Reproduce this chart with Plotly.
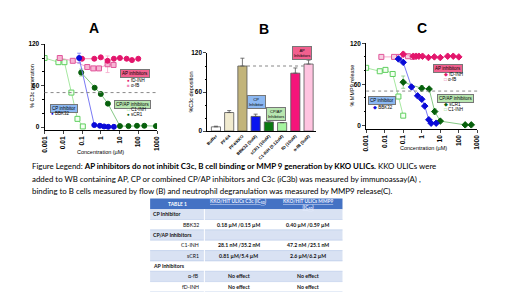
import plotly.graph_objects as go

W, H = 520, 292
def px(x): return x / W
def py(y): return 1 - y / H

# ---------------- Panel A data (% C3c generation) ----------------
A_C1INH_X = [0.001, 0.0055, 0.0115, 0.027, 0.057, 0.11]
A_C1INH_Y = [100, 94, 94, 50, 12, 1]
A_BBK32_X = [0.07, 0.45, 0.9, 1.5, 2.5, 5]
A_BBK32_Y = [100, 3, 2, 1, 0.5, 0.5]
A_BBK32_ERR = [7, 0, 0, 0, 0, 0]
A_SCR1_X = [0.09, 0.47, 1.0, 2.4, 10.5, 30, 85, 210, 880]
A_SCR1_Y = [79, 57, 48, 34, 1.5, 1.5, 2, 2, 1.5]
A_SCR1_ERR = [5, 0, 0, 0, 0, 0, 0, 0, 0]
A_FD_X = [0.1, 0.45, 1.0, 2.3, 5, 10.5, 24, 46, 100]
A_FD_Y = [99, 99, 101, 96, 99, 100, 99, 97, 99]
A_AFB_X = [0.0065, 0.032, 0.19, 0.4, 0.8, 2.3, 4.8]
A_AFB_Y = [100, 96, 87, 85, 85, 91, 90]
A_AFB_ERR = [0, 0, 0, 0, 0, 12, 0]

# ---------------- Panel B data (% C3c deposition) ----------------
B_LABELS = ["Buffer", "PF4/4", "PF4/KKO", "BBK32 (5uM)", "sCR1 (10uM)",
            "C1-INH (0.12uM)", "fD (10uM)", "α-fB (5uM)"]
B_VALUES = [6.5, 28.5, 100, 22.5, 14, 13, 89, 103]
B_ERR = [1, 3, 12, 3.5, 2.5, 0, 8, 6]
B_COLORS = ["#ffffff", "#f1ebcf", "#c2b47a", "#0a14f0", "#0a7a10",
            "#a6f5a0", "#f5157a", "#ffc4e0"]

# ---------------- Panel C data (% MMP9 release) ----------------
C_FD_X = [0.1, 0.35, 0.5, 0.7, 1.1, 2.3, 4.8, 10, 25, 50, 100]
C_FD_Y = [104, 101, 101, 101, 101, 99, 100, 99, 101, 101, 100]
C_FD_ERR = [3, 0, 0, 0, 0, 0, 0, 0, 0, 0, 0]
C_AFB_X = [0.0066, 0.032, 0.06, 0.18, 0.33]
C_AFB_Y = [100, 100, 100, 101, 100]
C_BBK32_X = [0.055, 0.1, 0.28, 0.6, 1.0, 1.45, 2.4, 3.2, 6]
C_BBK32_Y = [97, 92, 56, 43, 38, 28, 8, 3, 3]
C_SCR1_X = [0.1, 1, 2.5, 5, 10, 220, 470]
C_SCR1_Y = [63, 54, 53, 20, 6, 0.5, 0.5]
C_SCR1_ERR = [9, 4, 0, 4, 0, 0, 0]
C_C1INH_X = [0.001, 0.0054, 0.011, 0.027, 0.055, 0.1]
C_C1INH_Y = [84, 79, 81, 75, 42, 14]

X_TICKS = [0.001, 0.01, 0.1, 1, 10, 100, 1000]
X_TICKTEXT = ["0.001", "0.01", "0.1", "1", "10", "100", "1000"]
HALF = 50

# ---------------- Table 1 ----------------
T_HEADER = ["TABLE 1", "<u>KKO/HIT ULICs C3c (IC<sub>50</sub>)</u>",
            "<u>KKO/HIT ULICs MMP9</u><br><u>(IC<sub>50</sub>)</u>"]
T_SECTIONS = ["CP Inhibitor", "", "CP/AP Inhibitors", "", "", "AP Inhibitors", "", ""]
T_COL1 = ["", "BBK32", "", "C1-INH", "sCR1", "", "α-fB", "fD-INH"]
T_COL2 = ["", "0.18 µM /0.15 µM", "", "28.1 nM /35.2 nM", "0.81 µM/5.4 µM",
          "", "No effect", "No effect"]
T_COL3 = ["", "0.40 µM /0.59 µM", "", "47.2 nM /25.1 nM", "2.6 µM/6.2 µM",
          "", "No effect", "No effect"]

AXF = "Liberation Sans"
fig = go.Figure()

def series(xs, ys, err, symbol, edge, fill, lcolor, xa, ya, size=5):
    ed = dict(type="data", array=err, color=lcolor, thickness=0.8, width=2) if err else None
    fig.add_trace(go.Scatter(
        x=xs, y=ys, mode="lines+markers", xaxis=xa, yaxis=ya, showlegend=False,
        line=dict(color=lcolor, width=1),
        marker=dict(symbol=symbol, size=size, color=fill, line=dict(color=edge, width=1)),
        error_y=ed))

# Panel A
series(A_C1INH_X, A_C1INH_Y, None, "square", "#5fcf5f", "#f4fff2", "#a6e8a0", "x", "y")
series(A_AFB_X, A_AFB_Y, A_AFB_ERR, "square", "#e0559a", "#f7b5d4", "#f6a9cc", "x", "y")
series(A_FD_X, A_FD_Y, None, "circle", "#e3166c", "#e3166c", "#f58ab6", "x", "y")
series(A_SCR1_X, A_SCR1_Y, A_SCR1_ERR, "circle", "#07600c", "#07600c", "#86c986", "x", "y")
series(A_BBK32_X, A_BBK32_Y, A_BBK32_ERR, "circle", "#0a0ad8", "#0a0ad8", "#7a7af5", "x", "y")

# Panel B
fig.add_trace(go.Bar(
    x=B_LABELS, y=B_VALUES, xaxis="x2", yaxis="y2", width=0.69, showlegend=False,
    marker=dict(color=B_COLORS, line=dict(color="#555555", width=0.8)),
    error_y=dict(type="data", array=B_ERR, arrayminus=[0] * len(B_ERR), symmetric=False,
                 color="#555555", thickness=0.8, width=2)))

# Panel C
series(C_C1INH_X, C_C1INH_Y, None, "square", "#5fcf5f", "#f4fff2", "#a6e8a0", "x3", "y3")
series(C_AFB_X, C_AFB_Y, None, "square", "#e0559a", "#f7d0e2", "#f6a9cc", "x3", "y3")
series(C_FD_X, C_FD_Y, C_FD_ERR, "diamond", "#e3166c", "#e3166c", "#f58ab6", "x3", "y3")
series(C_SCR1_X, C_SCR1_Y, C_SCR1_ERR, "diamond", "#07600c", "#07600c", "#86c986", "x3", "y3")
series(C_BBK32_X, C_BBK32_Y, None, "diamond", "#0a0ad8", "#0a0ad8", "#7a7af5", "x3", "y3")

tf = dict(family=AXF, size=6.5, color="black", weight="bold")
ycommon = dict(showline=True, linecolor="black", linewidth=1, ticks="outside", ticklen=3,
               tickmode="linear", tick0=0, dtick=60, tickfont=tf, showgrid=False,
               zeroline=False, minor=dict(dtick=20, ticks="outside", ticklen=1.5,
                                          tickcolor="black"))
xlog = dict(type="log", range=[-3, 3], tickmode="array", tickvals=X_TICKS,
            ticktext=X_TICKTEXT, tickangle=-90, showline=True, linecolor="black",
            linewidth=1, ticks="outside", ticklen=3, tickfont=tf, showgrid=False,
            zeroline=False)

fig.update_layout(
    width=W, height=H, margin=dict(l=0, r=0, t=0, b=0),
    paper_bgcolor="white", plot_bgcolor="white",
    xaxis=dict(domain=[px(33), px(147)], anchor="y", **xlog),
    yaxis=dict(domain=[py(120.8), py(33)], range=[-4, 120], anchor="x", **ycommon),
    xaxis2=dict(domain=[px(198), px(308)], anchor="y2", range=[-0.65, 7.55],
                tickangle=-45, showline=True, linecolor="black", linewidth=1,
                ticks="", tickfont=dict(family=AXF, size=4.3, color="black", weight="bold"),
                showgrid=False, zeroline=False),
    yaxis2=dict(domain=[py(122), py(42)], range=[0, 120], anchor="x2", **ycommon),
    xaxis3=dict(domain=[px(359), px(471.7)], anchor="y3", **xlog),
    yaxis3=dict(domain=[py(119.5), py(32)], range=[-5, 120], anchor="x3", **ycommon),
)

# reference lines
for xr, yr in [("x domain", "y"), ("x3 domain", "y3")]:
    fig.add_shape(type="line", xref=xr, x0=0, x1=1, yref=yr, y0=HALF, y1=HALF,
                  line=dict(color="#888888", width=1, dash="dot"))
fig.add_shape(type="line", xref="x2", x0=2.35, x1=6.65, yref="y2",
              y0=B_VALUES[2], y1=B_VALUES[2],
              line=dict(color="#888888", width=1, dash="dot"))

ann = []
def text(x, y, s, size=5, xanchor="center", angle=0, color="black", family=AXF, **kw):
    ann.append(dict(x=px(x), y=py(y), xref="paper", yref="paper", text=s,
                    showarrow=False, xanchor=xanchor, yanchor="middle", textangle=angle,
                    font=dict(size=size, color=color, family=family), **kw))

def box(x, y, s, bg, size=4.5):
    text(x, y, s, size=size, bgcolor=bg, bordercolor="#777777", borderwidth=1, borderpad=1)

def rect(x0, y0, x1, y1, fill):
    fig.add_shape(type="rect", xref="paper", yref="paper",
                  x0=px(x0), x1=px(x1), y0=py(y1), y1=py(y0), fillcolor=fill,
                  line=dict(width=0), layer="below")

def hline(x0, x1, y, color, width=0.6):
    fig.add_shape(type="line", xref="paper", yref="paper", x0=px(x0), x1=px(x1),
                  y0=py(y), y1=py(y), line=dict(color=color, width=width))

# ---------------- table drawing ----------------
TX = [140, 195, 265, 335]          # column edges
T_TOP, HDR_H, ROW_H = 191, 11, 10.6
TF = "Lato"
rect(TX[0], T_TOP, TX[3], T_TOP + HDR_H, "#4472c4")
for i in range(len(T_COL1)):
    y0 = T_TOP + HDR_H + ROW_H * i
    rect(TX[0], y0, TX[3], y0 + ROW_H, "#d9e2f3" if i % 2 == 0 else "#ffffff")
    hline(TX[0], TX[3], y0 + ROW_H, "#b4c6e7")
fig.add_shape(type="line", xref="paper", yref="paper", x0=px(TX[1]), x1=px(TX[1]),
              y0=py(T_TOP + HDR_H), y1=py(H), line=dict(color="#ffffff", width=1))

hc = "#e8eeff"
text((TX[0] + TX[1]) / 2, T_TOP + 6, "<b>" + T_HEADER[0] + "</b>", size=5, color="white", family=TF)
text((TX[1] + TX[2]) / 2, T_TOP + 3.5, "<b>" + T_HEADER[1] + "</b>", size=4.8, color=hc, family=TF)
text((TX[2] + TX[3]) / 2, T_TOP + 6, "<b>" + T_HEADER[2] + "</b>", size=4.8, color=hc, family=TF)
for i in range(len(T_COL1)):
    yc = T_TOP + HDR_H + ROW_H * (i + 0.5)
    if T_SECTIONS[i]:
        text(TX[0] + 1, yc, "<b>" + T_SECTIONS[i] + "</b>", size=5.2, xanchor="left",
             family=TF, color="#111111")
    if T_COL1[i]:
        text(TX[1] - 3, yc, T_COL1[i], size=5.2, xanchor="right", family=TF, color="#111111")
    if T_COL2[i]:
        text((TX[1] + TX[2]) / 2, yc, "<b>" + T_COL2[i] + "</b>", size=5.2, family=TF, color="#111111")
    if T_COL3[i]:
        text((TX[2] + TX[3]) / 2, yc, "<b>" + T_COL3[i] + "</b>", size=5.2, family=TF, color="#111111")

# panel titles
text(83, 16, "<b>A</b>", size=14)
text(255, 17, "<b>B</b>", size=14)
text(416, 16, "<b>C</b>", size=14)

# axis titles
text(90, 143, "Concentration (µM)", size=5.5)
text(417, 139, "Concentration (µM)", size=5.5)
text(20, 76, "% C3c generation", size=5.5, angle=-90)
text(181, 82, "%C3c deposition", size=5.5, angle=-90)
text(345, 75, "% MMP9 release", size=5.5, angle=-90)

# Panel A legends
box(125, 63.5, "AP inhibitors", "#f2608e")
text(115, 70, "<span style='color:#e3166c'>●</span> fD-INH", size=4.5, xanchor="left")
text(115, 75, "<span style='color:#f08cbc'>■</span> α-fB", size=4.5, xanchor="left")
box(52.5, 98.5, "CP inhibitor", "#8cb8f2")
text(37, 104, "<span style='color:#0a0ad8'>●</span> BBK32", size=4.5, xanchor="left")
box(122.5, 94.5, "CP/AP inhibitors", "#b8e6b0")
text(115, 100, "<span style='color:#5fcf5f'>□</span> C1-INH", size=4.5, xanchor="left")
text(115, 105, "<span style='color:#07600c'>●</span> sCR1", size=4.5, xanchor="left")

# Panel B legends
box(248, 92.5, "CP<br>Inhibitor", "#8cb8f2", size=4)
box(268, 104, "CP/AP<br>Inhibitors", "#b8e6b0", size=4)
box(293.5, 42, "AP<br>Inhibitors", "#f2608e", size=4)

# Panel C legends
box(442, 58, "AP inhibitors", "#f2608e")
text(436, 64, "<span style='color:#e3166c'>◆</span> fD-INH", size=4.5, xanchor="left")
text(436, 69.5, "<span style='color:#e0559a'>□</span> α-fB", size=4.5, xanchor="left")
box(375, 91, "CP inhibitor", "#8cb8f2")
text(364, 98, "<span style='color:#0a0ad8'>◆</span> BBK32", size=4.5, xanchor="left")
box(450, 88.5, "CP/AP inhibitors", "#b8e6b0")
text(436, 94.5, "<span style='color:#07600c'>◆</span> sCR1", size=4.5, xanchor="left")
text(436, 100, "<span style='color:#5fcf5f'>□</span> C1-INH", size=4.5, xanchor="left")

# caption
CF = "Lato"
CS = 7.9
text(18, 158, "Figure Legend: <b>AP inhibitors do not inhibit C3c, B cell binding or MMP 9 "
     "generation by KKO ULICs.</b> KKO ULICs were", size=CS, xanchor="left", family=CF)
text(18, 171, "added to WB containing AP, CP or combined CP/AP inhibitors and C3c (iC3b) "
     "was measured by immunoassay(A) ,", size=CS, xanchor="left", family=CF)
text(18, 183, "binding to B cells measured by flow (B) and neutrophil degranulation was "
     "measured by MMP9 release(C).", size=CS, xanchor="left", family=CF)

fig.update_layout(annotations=ann)
fig.write_html("out.html")
